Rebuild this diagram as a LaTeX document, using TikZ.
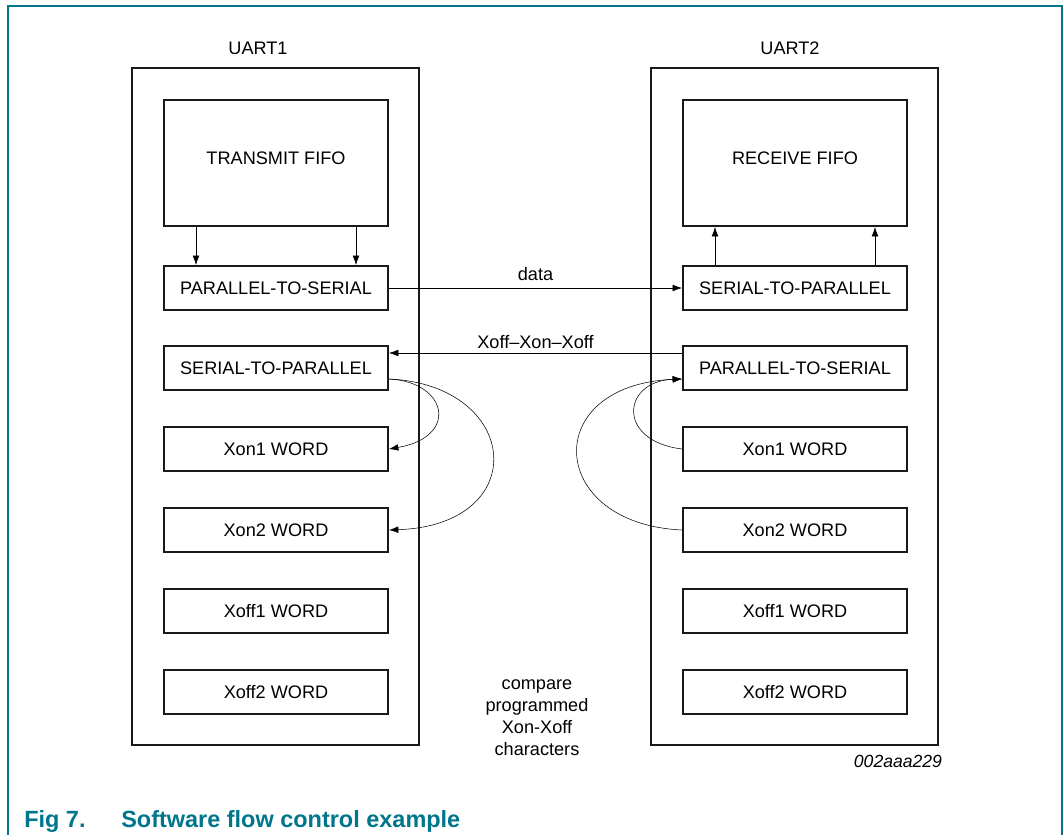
\documentclass[tikz,border=0pt]{standalone}
\usepackage{fontspec}
\setmainfont{Liberation Sans}
\usetikzlibrary{calc,arrows.meta}

\definecolor{capteal}{RGB}{0,118,140}

\begin{document}
\begin{tikzpicture}[
    x = 0.75pt, y = -0.75pt,
    >= {Latex[length=7pt, width=5pt]},
    every node/.style = {font = \fontsize{13.6}{16.5}\selectfont},
    uart/.style = {shape = rectangle, draw = black!90, line width = 1.5pt,
                   minimum width = 215.25pt, minimum height = 507.75pt},
    fifo/.style = {shape = rectangle, draw = black!90, line width = 1.5pt,
                   minimum width = 168pt, minimum height = 94.5pt, text depth = 7.5pt},
    word/.style = {shape = rectangle, draw = black!90, line width = 1.5pt,
                   minimum width = 168pt, minimum height = 33pt},
    frame/.style = {draw = capteal, line width = 1.1pt},
    caption/.style = {anchor = base west, inner sep = 0pt, text = capteal,
                      font = \fontsize{17.6}{20}\selectfont\bfseries},
  ]
  \useasboundingbox (0, 0) rectangle (1064, 835);

  % ------------------------------------------------------------------------
  % Frame and caption
  \draw[frame] (8, 835) -- (8, 6) -- (1062, 6) -- (1062, 835);

  \node[caption] at (24, 827)  (fignum) {Fig 7.};
  \node[caption] at (121, 827) (figcap) {Software flow control example};

  % ------------------------------------------------------------------------
  % UART1
  \node at (258, 48) (uart1) {UART1};
  \node[uart] at (275.5, 406.5) (lbox) {};

  \node[fifo] at (276, 163) (tfifo) {TRANSMIT FIFO};
  \node[word] at (276, 288) (lps)   {PARALLEL-TO-SERIAL};
  \node[word] at (276, 368) (lsp)   {SERIAL-TO-PARALLEL};
  \node[word] at (276, 449) (lxon1) {Xon1 WORD};
  \node[word] at (276, 530) (lxon2) {Xon2 WORD};
  \node[word] at (276, 611) (lxof1) {Xoff1 WORD};
  \node[word] at (276, 692) (lxof2) {Xoff2 WORD};

  \draw
    ($(tfifo.south)+(-80, 0)$) edge[->] ($(lps.north)+(-80, 0)$)
    ($(tfifo.south)+( 80, 0)$) edge[->] ($(lps.north)+( 80, 0)$)
  ;
  \draw[->] ($(lsp.east)+(0, 11)$) .. controls +(59, 3) and +(70, -12) .. (lxon1.east);
  \draw[->] ($(lsp.east)+(0, 11)$) .. controls +(132, 6) and +(144, -5) .. (lxon2.east);

  % ------------------------------------------------------------------------
  % UART2
  \node at (790, 48) (uart2) {UART2};
  \node[uart] at (794.5, 406.5) (rbox) {};

  \node[fifo] at (795, 163) (rfifo) {RECEIVE FIFO};
  \node[word] at (795, 288) (rsp)   {SERIAL-TO-PARALLEL};
  \node[word] at (795, 368) (rps)   {PARALLEL-TO-SERIAL};
  \node[word] at (795, 449) (rxon1) {Xon1 WORD};
  \node[word] at (795, 530) (rxon2) {Xon2 WORD};
  \node[word] at (795, 611) (rxof1) {Xoff1 WORD};
  \node[word] at (795, 692) (rxof2) {Xoff2 WORD};

  \draw
    ($(rsp.north)+(-80, 0)$) edge[->] ($(rfifo.south)+(-80, 0)$)
    ($(rsp.north)+( 80, 0)$) edge[->] ($(rfifo.south)+( 80, 0)$)
  ;
  \draw[->] (rxon1.west) .. controls +(-66, -8) and +(-60, 2) .. ($(rps.west)+(0, 11)$);
  \draw[->] (rxon2.west) .. controls +(-135, -6) and +(-143, 6) .. ($(rps.west)+(0, 11)$);

  % ------------------------------------------------------------------------
  % Links between the two
  \draw[->] (lps.east) -- node[above, yshift = 2pt] {data} (rsp.west);
  \draw[->] ($(rps.west)+(0, -15)$) -- node[above] {Xoff--Xon--Xoff} ($(lsp.east)+(0, -15)$);

  \node[align = center] at (537, 718) (cmp) {compare\\programmed\\Xon-Xoff\\characters};
  \node[font = \fontsize{13.2}{16}\selectfont\itshape] at (898, 761) (fignr) {002aaa229};
\end{tikzpicture}
\end{document}
